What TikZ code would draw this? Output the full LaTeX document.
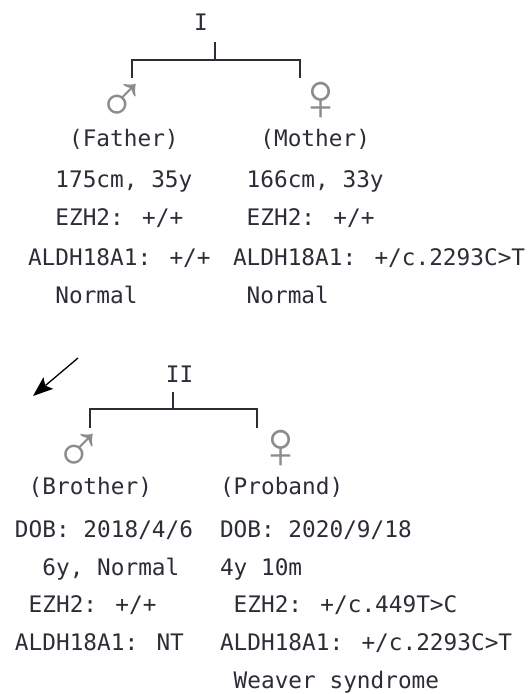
\documentclass[tikz,border=0pt]{standalone}
\usepackage{fontspec}
\usetikzlibrary{arrows.meta}
\newfontfamily\monofnt{DejaVu Sans Mono}
\newfontfamily\symfnt{Liberation Sans}
\definecolor{ink}{RGB}{45,45,55}
\definecolor{sym}{RGB}{140,140,140}
\tikzset{
  txt/.style={anchor=base west, inner sep=0pt, outer sep=0pt, text=ink,
    font=\monofnt\fontsize{22.75}{27}\selectfont},
  gen/.style={anchor=base, inner sep=0pt, outer sep=0pt, text=ink,
    font=\monofnt\fontsize{22.75}{27}\selectfont},
  sex/.style={anchor=base, inner sep=0pt, outer sep=0pt, text=sym,
    font=\symfnt\fontsize{68}{72}\selectfont},
  kin/.style={draw=ink, line width=2.8pt},
  pointer/.style={draw=black, line width=1.3pt, -{Stealth[length=20pt,width=15pt,inset=4pt]}}
}
\begin{document}
\begin{tikzpicture}[x=1pt,y=-1pt]
\useasboundingbox (0,0) rectangle (529,694);
% generation I
\node[gen] (genI) at (201,30) {I};
\coordinate (g1stem) at (215,42);
\coordinate (g1join) at (215,60);
\coordinate (g1L) at (132,78);
\coordinate (g1R) at (300,78);
\draw[kin] (g1stem) -- (g1join);
\draw[kin] (g1L) |- (g1join) -| (g1R);
\node[sex] (fsym) at (122,122) {\smash{♂}};
\node[sex] (msym) at (321,120) {\smash{♀}};
% father
\node[txt] (f1) at (69.1,146) {(Father)};
\node[txt] (f2) at (55.4,187) {175cm, 35y};
\node[txt] (f3) at (55.4,225) {EZH2: +/+};
\node[txt] (f4) at (28,265) {ALDH18A1: +/+};
\node[txt] (f5) at (55.4,303) {Normal};
% mother
\node[txt] (m1) at (260.4,146) {(Mother)};
\node[txt] (m2) at (246.7,187) {166cm, 33y};
\node[txt] (m3) at (246.7,225) {EZH2: +/+};
\node[txt] (m4) at (233,265) {ALDH18A1: +/c.2293C>T};
\node[txt] (m5) at (246.7,303) {Normal};
% generation II
\coordinate (arrS) at (78,358);
\coordinate (arrE) at (33,396);
\draw[pointer] (arrS) -- (arrE);
\node[gen] (genII) at (179.5,382) {II};
\coordinate (g2stem) at (173,392);
\coordinate (g2join) at (173,409);
\coordinate (g2L) at (90,428);
\coordinate (g2R) at (257,428);
\draw[kin] (g2stem) -- (g2join);
\draw[kin] (g2L) |- (g2join) -| (g2R);
\node[sex] (bsym) at (79,472) {\smash{♂}};
\node[sex] (psym) at (281,468) {\smash{♀}};
% brother
\node[txt] (b1) at (28.7,494) {(Brother)};
\node[txt] (b2) at (15,537) {DOB: 2018/4/6};
\node[txt] (b3) at (42.4,575) {6y, Normal};
\node[txt] (b4) at (28.7,612) {EZH2: +/+};
\node[txt] (b5) at (15,650) {ALDH18A1: NT};
% proband
\node[txt] (p1) at (220,494) {(Proband)};
\node[txt] (p2) at (220,537) {DOB: 2020/9/18};
\node[txt] (p3) at (220,575) {4y 10m};
\node[txt] (p4) at (233.7,612) {EZH2: +/c.449T>C};
\node[txt] (p5) at (220,650) {ALDH18A1: +/c.2293C>T};
\node[txt] (p6) at (233.7,688) {Weaver syndrome};
\end{tikzpicture}
\end{document}
